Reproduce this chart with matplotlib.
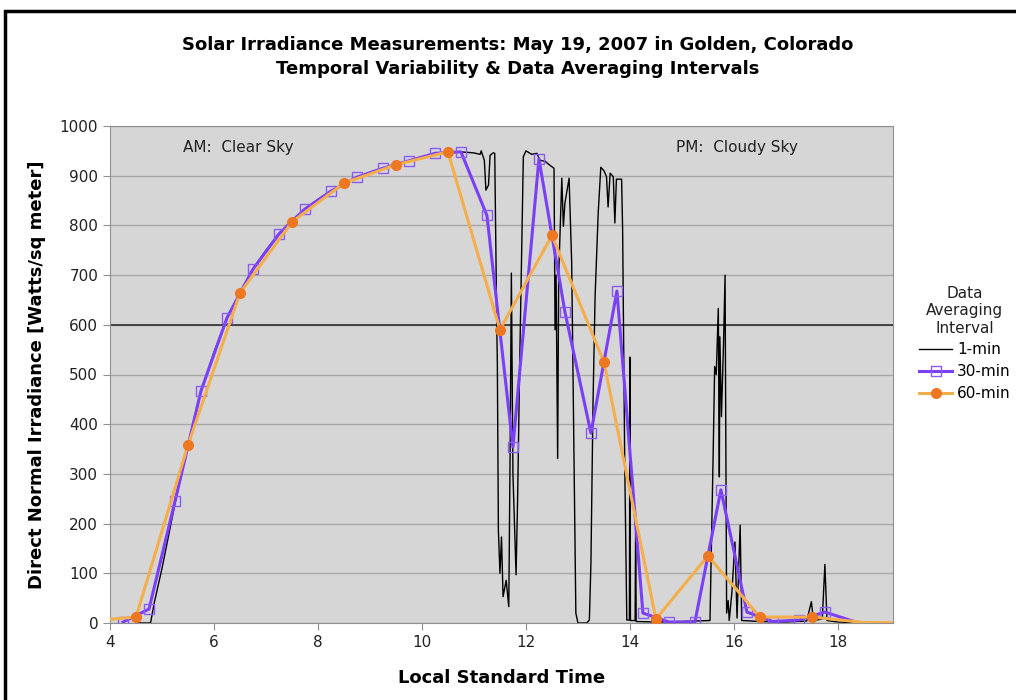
import numpy as np
import matplotlib
matplotlib.use("Agg")
import matplotlib.pyplot as plt
from matplotlib.patches import Rectangle

# 1-minute data (hand-read breakpoints)
t1 = [4.50, 4.78, 4.85, 5.00, 5.25, 5.50, 5.75, 6.00, 6.25, 6.50, 6.75, 7.00, 7.25, 7.50,
      7.75, 8.00, 8.25, 8.50, 8.75, 9.00, 9.25, 9.50, 9.75, 10.00, 10.25, 10.50, 10.73,
      10.99, 11.12, 11.14, 11.20, 11.23, 11.28, 11.31, 11.37, 11.40, 11.44, 11.45, 11.47,
      11.50, 11.53, 11.56, 11.62, 11.67, 11.70, 11.72, 11.75, 11.81, 11.84, 11.88, 11.95,
      12.00, 12.11, 12.21, 12.27, 12.37, 12.46, 12.54, 12.56, 12.58, 12.61, 12.63, 12.69,
      12.72, 12.75, 12.83, 12.88, 12.96, 13.00, 13.17, 13.22, 13.25, 13.29, 13.33, 13.39,
      13.44, 13.50, 13.55, 13.58, 13.62, 13.68, 13.71, 13.74, 13.84, 13.86, 13.90, 13.94,
      13.99, 14.00, 14.01, 14.10, 14.11, 14.12, 14.50, 15.00, 15.54, 15.60, 15.63, 15.66,
      15.70, 15.72, 15.73, 15.76, 15.80, 15.83, 15.86, 15.89, 15.91, 15.96, 16.02, 16.06,
      16.12, 16.15, 16.50, 17.00, 17.40, 17.49, 17.53, 17.70, 17.75, 17.79, 18.00, 18.50,
      19.00]
v1 = [0, 0, 40, 110, 240, 360, 465, 545, 612, 664, 712, 750, 783, 810,
      833, 852, 869, 884, 897, 907, 915, 923, 930, 937, 943, 947, 948,
      946, 943, 950, 931, 871, 881, 941, 946, 945, 590, 523, 187,
      100, 173, 53, 86, 33, 400, 704, 300, 97, 250, 523, 938,
      950, 943, 945, 931, 929, 921, 915, 590, 700, 331, 700, 895,
      798, 845, 895, 724, 20, 0, 0, 6, 120, 442, 657, 825,
      917, 910, 898, 837, 905, 898, 805, 893, 893, 790, 322, 6,
      6, 535, 5, 5, 200, 3, 2, 3, 5, 335, 516, 500,
      633, 294, 576, 415, 560, 700, 20, 45, 5, 60, 163, 10,
      197, 5, 3, 2, 4, 43, 5, 8, 118, 5, 2, 0,
      0]

# 30-minute averages
t30 = [4.25, 4.75, 5.25, 5.75, 6.25, 6.75, 7.25, 7.75, 8.25, 8.75, 9.25, 9.75, 10.25,
       10.75, 11.25, 11.75, 12.25, 12.75, 13.25, 13.75, 14.25, 14.75, 15.25, 15.75,
       16.25, 16.75, 17.25, 17.75, 18.40]
v30 = [2, 28, 245, 467, 614, 712, 783, 833, 869, 897, 915, 930, 945,
       948, 820, 354, 934, 626, 382, 668, 20, 2, 2, 268,
       22, 3, 6, 22, 0]

# 60-minute averages
t60 = [3.5, 4.5, 5.5, 6.5, 7.5, 8.5, 9.5, 10.5, 11.5, 12.5, 13.5, 14.5, 15.5, 16.5,
       17.5, 18.5, 19.5]
v60 = [3, 12, 358, 664, 807, 885, 922, 948, 590, 780, 525, 8, 135, 12,
       12, 1, 0]

fig = plt.figure(figsize=(10.16, 7.0), dpi=100)
fig.patches.append(Rectangle((5/1016, -0.1), 1.2, 1 - 11/700 + 0.1, transform=fig.transFigure,
                             fill=False, edgecolor='black', linewidth=2.5))

ax = fig.add_axes([110/1016, 1 - 623/700, 783/1016, 497/700])
ax.set_facecolor('#d6d6d6')
ax.set_xlim(4, 19.06)
ax.set_ylim(0, 1000)
ax.set_xticks(np.arange(4, 19, 2))
ax.set_yticks(np.arange(0, 1001, 100))
ax.yaxis.grid(True, color='#a8a8a8', linewidth=1.0)
ax.set_axisbelow(True)
ax.axhline(600, color='#3a3a3a', linewidth=1.3, zorder=1)
for s in ax.spines.values():
    s.set_color('#909090')
ax.tick_params(colors='#909090', labelcolor='#222222', labelsize=11, length=5)

ax.plot(t1, v1, color='black', linewidth=1.0, label='1-min', zorder=2)
ax.plot(t30, v30, color='#7a3ff7', linewidth=2.2, marker='s', markersize=7,
        markerfacecolor='none', markeredgecolor='#8a5cf5', markeredgewidth=1.0,
        markevery=list(range(0, 28)), label='30-min', zorder=3)
ax.plot(t60, v60, color='#f4ae4c', linewidth=2.2, marker='o', markersize=7,
        markerfacecolor='#ee7722', markeredgecolor='#ee7722',
        markevery=list(range(1, 15)), label='60-min', zorder=4)

ax.text(5.4, 956, 'AM:  Clear Sky', fontsize=11, va='center', color='#222222')
ax.text(14.88, 956, 'PM:  Cloudy Sky', fontsize=11, va='center', color='#222222')

fig.text(518/1016, 1 - 45/700, 'Solar Irradiance Measurements: May 19, 2007 in Golden, Colorado',
         ha='center', va='center', fontsize=13, fontweight='bold')
fig.text(518/1016, 1 - 69/700, 'Temporal Variability & Data Averaging Intervals',
         ha='center', va='center', fontsize=13, fontweight='bold')
ax.set_xlabel('Local Standard Time', fontsize=13, fontweight='bold', labelpad=14)
ax.set_ylabel('Direct Normal Irradiance [Watts/sq meter]', fontsize=13, fontweight='bold', labelpad=10)

leg = ax.legend(title='Data\nAveraging\nInterval', loc='upper left',
                bbox_to_anchor=(905/1016, 1 - 272/700), bbox_transform=fig.transFigure,
                frameon=False, fontsize=11, title_fontsize=11, handlelength=2.2,
                handletextpad=0.3, labelspacing=0.45, markerfirst=True)
leg.get_title().set_multialignment('center')
leg.get_title().set_color('#222222')

fig.savefig('out.png', dpi=100)
